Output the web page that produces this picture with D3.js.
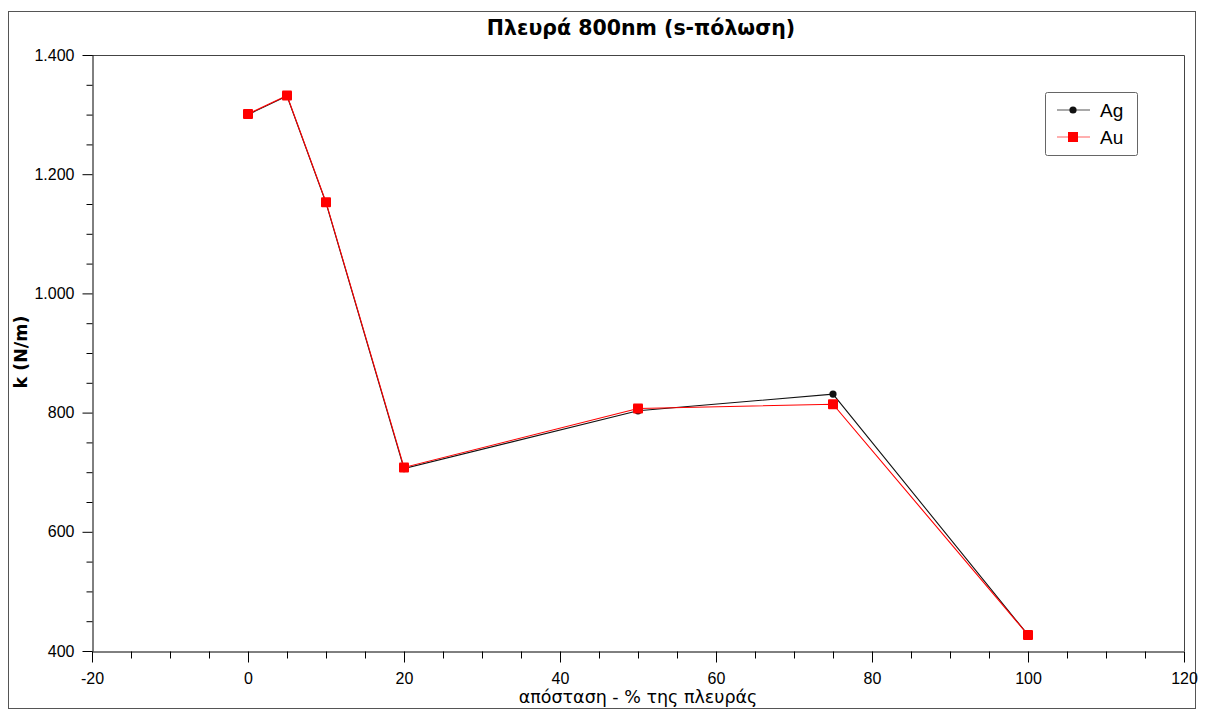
<!DOCTYPE html>
<html>
<head>
<meta charset="utf-8">
<script src="https://cdn.jsdelivr.net/npm/d3@7"></script>
<style>
  html, body { margin: 0; padding: 0; background: #fff; }
  svg { display: block; }
</style>
</head>
<body>
<svg id="chart" width="1206" height="710"></svg>
<script>
// Measurement positions along the side (% of side length)
const positions = [0, 5, 10, 20, 50, 75, 100];
// Spring constant k (N/m) for each metal
const agValues = [1300, 1331, 1152, 706, 803, 831, 427];
const auValues = [1301, 1332, 1153, 708, 807, 814, 427];
const seriesNames = ["Ag", "Au"];
const xTicks = [-20, 0, 20, 40, 60, 80, 100, 120];
const xTickLabels = ["-20", "0", "20", "40", "60", "80", "100", "120"];
const yTicks = [400, 600, 800, 1000, 1200, 1400];
const yTickLabels = ["400", "600", "800", "1.000", "1.200", "1.400"];

const svg = d3.select("#chart");
const plot = { left: 92, top: 55, right: 1184, bottom: 651 };

const x = d3.scaleLinear().domain([-20, 120]).range([plot.left, plot.right]);
const y = d3.scaleLinear().domain([400, 1400]).range([plot.bottom, plot.top]);

const tickFont = "'Liberation Sans', Arial, sans-serif";
const labelFont = "'DejaVu Sans', Verdana, sans-serif";

// Outer frame
svg.append("rect")
  .attr("x", 8.5).attr("y", 11.5)
  .attr("width", 1187).attr("height", 697)
  .attr("fill", "#fff").attr("stroke", "#555").attr("stroke-width", 1);

// Plot area top and right borders
svg.append("path")
  .attr("d", `M${plot.left},${plot.top + 0.5}H${plot.right + 0.5}V${plot.bottom}`)
  .attr("fill", "none").attr("stroke", "#444").attr("stroke-width", 1);

// Title
svg.append("text")
  .attr("x", 641).attr("y", 35)
  .attr("text-anchor", "middle")
  .attr("font-family", labelFont)
  .attr("font-weight", "bold")
  .attr("font-size", 20.5)
  .attr("fill", "#000")
  .text("Πλευρά 800nm (s-πόλωση)");

// X axis with minor ticks every 5
const xMinor = d3.range(-20, 121, 5).filter(v => !xTicks.includes(v));
const xAxisG = svg.append("g").attr("transform", `translate(0,${plot.bottom + 0.5})`);
xAxisG.call(d3.axisBottom(x).tickValues(xMinor).tickSize(7).tickFormat(""))
  .call(g => g.select(".domain").remove());
xAxisG.append("g").call(d3.axisBottom(x).tickValues(xTicks).tickSize(11).tickSizeOuter(0).tickPadding(10)
  .tickFormat((d, i) => xTickLabels[i]));
xAxisG.selectAll("line, path").attr("stroke", "#000");
xAxisG.selectAll("text")
  .attr("font-family", tickFont).attr("font-size", 16).attr("fill", "#000");

// Y axis with minor ticks every 50
const yMinor = d3.range(400, 1401, 50).filter(v => !yTicks.includes(v));
const yAxisG = svg.append("g").attr("transform", `translate(${plot.left + 0.5},0)`);
yAxisG.call(d3.axisLeft(y).tickValues(yMinor).tickSize(6).tickFormat(""))
  .call(g => g.select(".domain").remove());
yAxisG.append("g").call(d3.axisLeft(y).tickValues(yTicks).tickSize(10).tickSizeOuter(0).tickPadding(8)
  .tickFormat((d, i) => yTickLabels[i]));
yAxisG.selectAll("line, path").attr("stroke", "#000");
yAxisG.selectAll("text")
  .attr("font-family", tickFont).attr("font-size", 16).attr("fill", "#000");

// Axis titles
svg.append("text")
  .attr("x", 638).attr("y", 703)
  .attr("text-anchor", "middle")
  .attr("font-family", labelFont)
  .attr("font-size", 17.5)
  .attr("fill", "#000")
  .text("απόσταση - % της πλευράς");

svg.append("text")
  .attr("transform", "translate(27,352) rotate(-90)")
  .attr("text-anchor", "middle")
  .attr("font-family", labelFont)
  .attr("font-weight", "bold")
  .attr("font-size", 17.5)
  .attr("fill", "#000")
  .text("k (N/m)");

// Series
const series = [
  { name: seriesNames[0], values: agValues, color: "#111", marker: "circle" },
  { name: seriesNames[1], values: auValues, color: "#f00", marker: "square" }
];

const line = d3.line().x(d => x(d[0])).y(d => y(d[1]));

series.forEach(s => {
  const pts = positions.map((p, i) => [p, s.values[i]]);
  const g = svg.append("g");
  g.append("path")
    .datum(pts)
    .attr("d", line)
    .attr("fill", "none")
    .attr("stroke", s.color)
    .attr("stroke-width", 1.1);
  if (s.marker === "circle") {
    g.selectAll("circle").data(pts).join("circle")
      .attr("cx", d => x(d[0])).attr("cy", d => y(d[1]))
      .attr("r", 3.6).attr("fill", s.color);
  } else {
    g.selectAll("rect").data(pts).join("rect")
      .attr("x", d => x(d[0]) - 5).attr("y", d => y(d[1]) - 5)
      .attr("width", 10).attr("height", 10)
      .attr("rx", 1)
      .attr("fill", s.color);
  }
});

// Legend
const legend = svg.append("g");
legend.append("rect")
  .attr("x", 1045.5).attr("y", 92.5)
  .attr("width", 92).attr("height", 63)
  .attr("rx", 2)
  .attr("fill", "#fff").attr("stroke", "#666").attr("stroke-width", 1);
series.forEach((s, i) => {
  const cy = 110 + i * 27;
  legend.append("line")
    .attr("x1", 1057).attr("x2", 1090).attr("y1", cy).attr("y2", cy)
    .attr("stroke", i === 0 ? "#555" : "#ff6060").attr("stroke-width", 1.2);
  if (s.marker === "circle") {
    legend.append("circle").attr("cx", 1073).attr("cy", cy).attr("r", 3.6).attr("fill", s.color);
  } else {
    legend.append("rect").attr("x", 1068).attr("y", cy - 5).attr("width", 10).attr("height", 10)
      .attr("fill", s.color);
  }
  legend.append("text")
    .attr("x", 1100).attr("y", cy + 7)
    .attr("font-family", tickFont)
    .attr("font-size", 19)
    .attr("fill", "#000")
    .text(s.name);
});
</script>
</body>
</html>
